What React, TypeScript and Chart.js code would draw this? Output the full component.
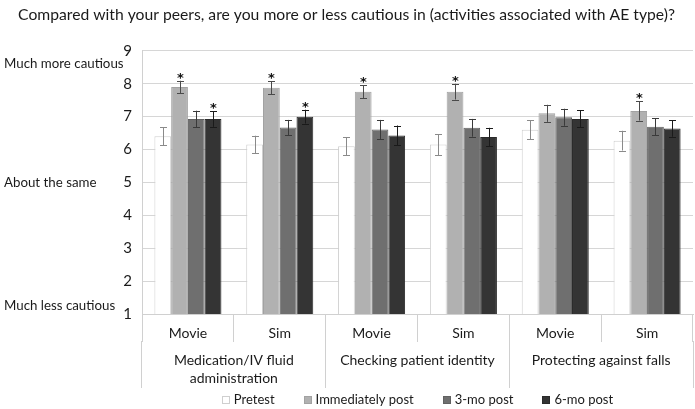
import React, { useEffect, useRef } from 'react';
import { Chart, registerables } from 'chart.js';

Chart.register(...registerables);

const titleText =
  'Compared with your peers, are you more or less cautious in (activities associated with AE type)?';
const conditions = ['Movie', 'Sim', 'Movie', 'Sim', 'Movie', 'Sim'];
const aeTypes: (string | string[])[] = [
  ['Medication/IV fluid', 'administration'],
  'Checking patient identity',
  'Protecting against falls',
];
const seriesNames = ['Pretest', 'Immediately post', '3-mo post', '6-mo post'];

const pretest = [6.4, 6.15, 6.1, 6.15, 6.6, 6.27];
const immediatelyPost = [7.9, 7.88, 7.76, 7.76, 7.1, 7.17];
const threeMoPost = [6.93, 6.67, 6.61, 6.66, 6.98, 6.69];
const sixMoPost = [6.93, 7.0, 6.43, 6.38, 6.93, 6.64];

const pretestErr = [0.27, 0.27, 0.28, 0.32, 0.29, 0.3];
const immediatelyErr = [0.19, 0.2, 0.2, 0.24, 0.26, 0.29];
const threeMoErr = [0.25, 0.23, 0.29, 0.27, 0.26, 0.26];
const sixMoErr = [0.24, 0.21, 0.3, 0.28, 0.26, 0.25];

const pretestSig = [0, 0, 0, 0, 0, 0];
const immediatelySig = [1, 1, 1, 1, 0, 1];
const threeMoSig = [0, 0, 0, 0, 0, 0];
const sixMoSig = [1, 1, 0, 0, 0, 0];

const yMin = 1;
const yMax = 9;
const sideLabels = ['Much more cautious', 'About the same', 'Much less cautious'];
const sideLabelValues = [8.6, 5.0, 1.25];

const FONT = 'Lato, "Open Sans", sans-serif';

const errorBarPlugin = {
  id: 'errorBars',
  afterDatasetsDraw(chart: any) {
    const ctx = chart.ctx;
    const yScale = chart.scales.y;
    chart.data.datasets.forEach((ds: any, i: number) => {
      const meta = chart.getDatasetMeta(i);
      meta.data.forEach((el: any, j: number) => {
        const v = ds.data[j];
        const e = ds.errors[j];
        const top = yScale.getPixelForValue(v + e);
        const bot = yScale.getPixelForValue(v - e);
        const x = Math.round(el.x) + 0.5;
        ctx.save();
        ctx.strokeStyle = ds.errorColor;
        ctx.lineWidth = 1;
        ctx.beginPath();
        ctx.moveTo(x, top);
        ctx.lineTo(x, bot);
        ctx.moveTo(x - 3.5, Math.round(top) + 0.5);
        ctx.lineTo(x + 3.5, Math.round(top) + 0.5);
        ctx.moveTo(x - 3.5, Math.round(bot) + 0.5);
        ctx.lineTo(x + 3.5, Math.round(bot) + 0.5);
        ctx.stroke();
        if (ds.sig[j]) {
          ctx.fillStyle = '#111';
          ctx.font = 'bold 13px "DejaVu Sans", sans-serif';
          ctx.textAlign = 'center';
          ctx.textBaseline = 'alphabetic';
          ctx.fillText('*', x, top + 1);
        }
        ctx.restore();
      });
    });
  },
};

const sideLabelPlugin = {
  id: 'sideLabels',
  afterDraw(chart: any) {
    const ctx = chart.ctx;
    const yScale = chart.scales.y;
    ctx.save();
    ctx.fillStyle = '#1a1a1a';
    ctx.font = '13.3px ' + FONT;
    ctx.textAlign = 'left';
    ctx.textBaseline = 'middle';
    sideLabels.forEach((t, i) => {
      ctx.fillText(t, 4, yScale.getPixelForValue(sideLabelValues[i]));
    });
    ctx.restore();
  },
};

const legendPlugin = {
  id: 'customLegend',
  afterDraw(chart: any) {
    const ctx = chart.ctx;
    const area = chart.chartArea;
    ctx.save();
    ctx.font = '13px ' + FONT;
    ctx.textBaseline = 'middle';
    ctx.textAlign = 'left';
    const box = 8;
    const boxGap = 4;
    const itemGap = 29;
    const items = chart.data.datasets.map((ds: any) => ({
      label: ds.label,
      fill: ds.backgroundColor,
      stroke: ds.borderColor,
      w: box + boxGap + ctx.measureText(ds.label).width,
    }));
    const total = items.reduce((s: number, it: any) => s + it.w, 0) + itemGap * (items.length - 1);
    let x = (area.left + area.right) / 2 - total / 2;
    const y = chart.height - 9;
    items.forEach((it: any) => {
      ctx.fillStyle = it.fill;
      ctx.fillRect(Math.round(x), Math.round(y - box / 2), box, box);
      ctx.strokeStyle = it.stroke;
      ctx.lineWidth = 1;
      ctx.strokeRect(Math.round(x) + 0.5, Math.round(y - box / 2) + 0.5, box - 1, box - 1);
      ctx.fillStyle = '#1a1a1a';
      ctx.fillText(it.label, x + box + boxGap, y);
      x += it.w + itemGap;
    });
    ctx.restore();
  },
};

export default function App() {
  const ref = useRef<HTMLCanvasElement | null>(null);

  useEffect(() => {
    if (!ref.current) return;
    const mk = (
      label: string,
      data: number[],
      errors: number[],
      sig: number[],
      bg: string,
      border: string,
      errorColor: string
    ) => ({
      label,
      data,
      errors,
      sig,
      errorColor,
      backgroundColor: bg,
      borderColor: border,
      borderWidth: 1,
      categoryPercentage: 0.73,
      barPercentage: 1.0,
      xAxisID: 'x',
      yAxisID: 'y',
    });
    const chart = new Chart(ref.current, {
      type: 'bar',
      data: {
        labels: conditions,
        datasets: [
          mk(seriesNames[0], pretest, pretestErr, pretestSig, '#ffffff', '#cfcfcf', '#8a8a8a'),
          mk(seriesNames[1], immediatelyPost, immediatelyErr, immediatelySig, '#b1b1b1', '#a2a2a2', '#4a4a4a'),
          mk(seriesNames[2], threeMoPost, threeMoErr, threeMoSig, '#6f6f6f', '#616161', '#3a3a3a'),
          mk(seriesNames[3], sixMoPost, sixMoErr, sixMoSig, '#343434', '#2a2a2a', '#1a1a1a'),
        ] as any,
      },
      options: {
        animation: false,
        responsive: true,
        maintainAspectRatio: false,
        layout: { padding: { left: 0, right: 2, top: 0, bottom: 21 } },
        plugins: {
          legend: { display: false },
          tooltip: { enabled: false },
          title: {
            display: true,
            text: titleText,
            color: '#1a1a1a',
            font: { family: FONT, size: 15.7, weight: 'normal' as any, lineHeight: 1.2 },
            padding: { top: 6, bottom: 26 },
          },
        },
        scales: {
          y: {
            min: yMin,
            max: yMax,
            ticks: {
              stepSize: 1,
              color: '#1a1a1a',
              font: { family: FONT, size: 15 },
              padding: 10,
            },
            grid: { color: '#d6d6d6', drawTicks: false },
            border: { display: true, color: '#d0d0d0' },
            afterFit: (scale: any) => {
              scale.width = 142;
            },
          },
          x: {
            type: 'category',
            position: 'bottom',
            offset: true,
            grid: {
              display: true,
              offset: true,
              drawOnChartArea: false,
              drawTicks: true,
              tickLength: 28,
              color: '#d0d0d0',
            },
            border: { display: true, color: '#d0d0d0' },
            ticks: {
              color: '#1a1a1a',
              font: { family: FONT, size: 14, lineHeight: 1.2 },
              padding: -17.4,
              autoSkip: false,
              maxRotation: 0,
            },
            afterFit: (scale: any) => {
              scale.height = 27.4;
            },
          },
          x2: {
            type: 'category',
            position: 'bottom',
            labels: aeTypes as any,
            offset: true,
            grid: {
              display: true,
              offset: true,
              drawOnChartArea: false,
              drawTicks: true,
              tickLength: 46.6,
              color: '#d0d0d0',
            },
            border: { display: false },
            ticks: {
              color: '#1a1a1a',
              font: { family: FONT, size: 14, lineHeight: 1.3 },
              padding: -36.4,
              autoSkip: false,
              maxRotation: 0,
            },
            afterFit: (scale: any) => {
              scale.height = 46.6;
            },
          },
        } as any,
      },
      plugins: [errorBarPlugin, sideLabelPlugin, legendPlugin],
    });
    return () => chart.destroy();
  }, []);

  return (
    <div style={{ position: 'absolute', left: 0, top: 0, width: 695, height: 409, background: '#fff' }}>
      <canvas ref={ref} />
    </div>
  );
}
